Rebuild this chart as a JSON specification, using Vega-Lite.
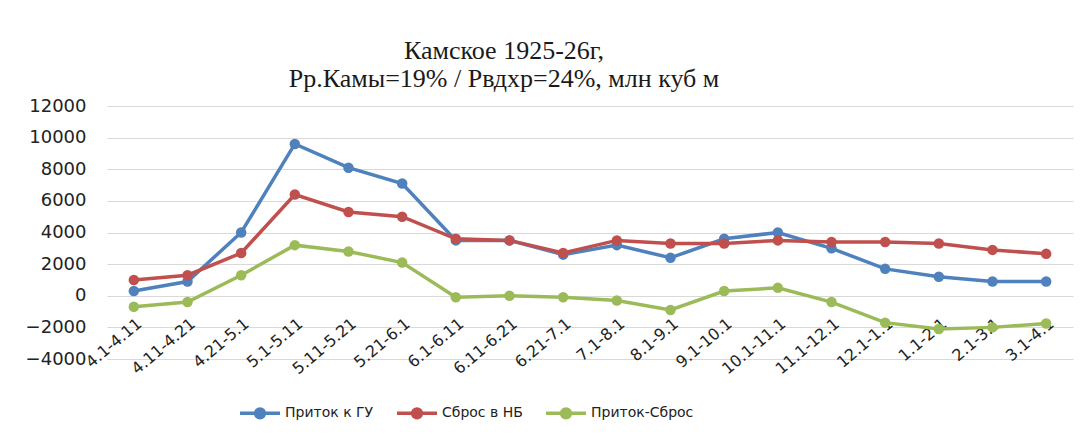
{
  "$schema": "https://vega.github.io/schema/vega-lite/v6.json",
  "autosize": {"type": "none"},
  "width": 966,
  "height": 253,
  "padding": {"left": 107, "top": 106, "right": 16, "bottom": 77},
  "background": "white",
  "title": {
    "text": ["Камское 1925-26г,", "Рр.Камы=19% / Рвдхр=24%, млн куб м"],
    "font": "Liberation Serif",
    "fontSize": 26,
    "fontWeight": "normal",
    "color": "#1a1a1a",
    "anchor": "middle",
    "dx": -86,
    "offset": 5,
    "lineHeight": 28
  },
  "data": {
    "values": [
      {"period": "4.1-4.11", "series": "Приток к ГУ", "value": 300},
      {"period": "4.11-4.21", "series": "Приток к ГУ", "value": 900},
      {"period": "4.21-5.1", "series": "Приток к ГУ", "value": 4000},
      {"period": "5.1-5.11", "series": "Приток к ГУ", "value": 9600},
      {"period": "5.11-5.21", "series": "Приток к ГУ", "value": 8100},
      {"period": "5.21-6.1", "series": "Приток к ГУ", "value": 7100},
      {"period": "6.1-6.11", "series": "Приток к ГУ", "value": 3500},
      {"period": "6.11-6.21", "series": "Приток к ГУ", "value": 3500},
      {"period": "6.21-7.1", "series": "Приток к ГУ", "value": 2600},
      {"period": "7.1-8.1", "series": "Приток к ГУ", "value": 3200},
      {"period": "8.1-9.1", "series": "Приток к ГУ", "value": 2400},
      {"period": "9.1-10.1", "series": "Приток к ГУ", "value": 3600},
      {"period": "10.1-11.1", "series": "Приток к ГУ", "value": 4000},
      {"period": "11.1-12.1", "series": "Приток к ГУ", "value": 3000},
      {"period": "12.1-1.1", "series": "Приток к ГУ", "value": 1700},
      {"period": "1.1-2.1", "series": "Приток к ГУ", "value": 1200},
      {"period": "2.1-3.1", "series": "Приток к ГУ", "value": 900},
      {"period": "3.1-4.1", "series": "Приток к ГУ", "value": 900},
      {"period": "4.1-4.11", "series": "Сброс в НБ", "value": 1000},
      {"period": "4.11-4.21", "series": "Сброс в НБ", "value": 1300},
      {"period": "4.21-5.1", "series": "Сброс в НБ", "value": 2700},
      {"period": "5.1-5.11", "series": "Сброс в НБ", "value": 6400},
      {"period": "5.11-5.21", "series": "Сброс в НБ", "value": 5300},
      {"period": "5.21-6.1", "series": "Сброс в НБ", "value": 5000},
      {"period": "6.1-6.11", "series": "Сброс в НБ", "value": 3600},
      {"period": "6.11-6.21", "series": "Сброс в НБ", "value": 3500},
      {"period": "6.21-7.1", "series": "Сброс в НБ", "value": 2700},
      {"period": "7.1-8.1", "series": "Сброс в НБ", "value": 3500},
      {"period": "8.1-9.1", "series": "Сброс в НБ", "value": 3300},
      {"period": "9.1-10.1", "series": "Сброс в НБ", "value": 3300},
      {"period": "10.1-11.1", "series": "Сброс в НБ", "value": 3500},
      {"period": "11.1-12.1", "series": "Сброс в НБ", "value": 3400},
      {"period": "12.1-1.1", "series": "Сброс в НБ", "value": 3400},
      {"period": "1.1-2.1", "series": "Сброс в НБ", "value": 3300},
      {"period": "2.1-3.1", "series": "Сброс в НБ", "value": 2900},
      {"period": "3.1-4.1", "series": "Сброс в НБ", "value": 2650},
      {"period": "4.1-4.11", "series": "Приток-Сброс", "value": -700},
      {"period": "4.11-4.21", "series": "Приток-Сброс", "value": -400},
      {"period": "4.21-5.1", "series": "Приток-Сброс", "value": 1300},
      {"period": "5.1-5.11", "series": "Приток-Сброс", "value": 3200},
      {"period": "5.11-5.21", "series": "Приток-Сброс", "value": 2800},
      {"period": "5.21-6.1", "series": "Приток-Сброс", "value": 2100},
      {"period": "6.1-6.11", "series": "Приток-Сброс", "value": -100},
      {"period": "6.11-6.21", "series": "Приток-Сброс", "value": 0},
      {"period": "6.21-7.1", "series": "Приток-Сброс", "value": -100},
      {"period": "7.1-8.1", "series": "Приток-Сброс", "value": -300},
      {"period": "8.1-9.1", "series": "Приток-Сброс", "value": -900},
      {"period": "9.1-10.1", "series": "Приток-Сброс", "value": 300},
      {"period": "10.1-11.1", "series": "Приток-Сброс", "value": 500},
      {"period": "11.1-12.1", "series": "Приток-Сброс", "value": -400},
      {"period": "12.1-1.1", "series": "Приток-Сброс", "value": -1700},
      {"period": "1.1-2.1", "series": "Приток-Сброс", "value": -2100},
      {"period": "2.1-3.1", "series": "Приток-Сброс", "value": -2000},
      {"period": "3.1-4.1", "series": "Приток-Сброс", "value": -1750}
    ]
  },
  "encoding": {
    "x": {
      "field": "period",
      "type": "ordinal",
      "sort": null,
      "scale": {"paddingInner": 0, "paddingOuter": 0.5},
      "axis": {
        "title": null,
        "labelAngle": -40,
        "labelFont": "DejaVu Sans",
        "labelFontSize": 16,
        "labelColor": "#222",
        "domain": false,
        "ticks": false,
        "grid": false,
        "labelPadding": 19,
        "labelOverlap": false,
        "offset": -63
      }
    },
    "y": {
      "field": "value",
      "type": "quantitative",
      "scale": {"domain": [-4000, 12000], "nice": false},
      "axis": {
        "title": null,
        "values": [-4000, -2000, 0, 2000, 4000, 6000, 8000, 10000, 12000],
        "format": "d",
        "labelFont": "DejaVu Sans",
        "labelFontSize": 18,
        "labelColor": "#222",
        "domain": false,
        "ticks": false,
        "labelPadding": 21,
        "gridColor": "#d9d9d9",
        "gridWidth": 1
      }
    },
    "color": {
      "field": "series",
      "type": "nominal",
      "sort": ["Приток к ГУ", "Сброс в НБ", "Приток-Сброс"],
      "scale": {
        "domain": ["Приток к ГУ", "Сброс в НБ", "Приток-Сброс"],
        "range": ["#4F81BD", "#C0504D", "#9BBB59"]
      },
      "legend": {
        "title": null,
        "orient": "none",
        "direction": "horizontal",
        "legendX": 131,
        "legendY": 285,
        "labelFont": "DejaVu Sans",
        "labelFontSize": 14,
        "labelColor": "#222",
        "symbolType": "M-1,0L1,0M-0.22,0A0.22,0.22 0 1,1 0.22,0A0.22,0.22 0 1,1 -0.22,0Z",
        "symbolSize": 1600,
        "symbolStrokeWidth": 3.5,
        "symbolOffset": 0,
        "labelOffset": 3,
        "columnPadding": 16
      }
    }
  },
  "layer": [
    {"mark": {"type": "line", "strokeWidth": 3.5}},
    {"mark": {"type": "point", "filled": true, "size": 110, "opacity": 1}}
  ],
  "config": {"view": {"stroke": null}}
}
